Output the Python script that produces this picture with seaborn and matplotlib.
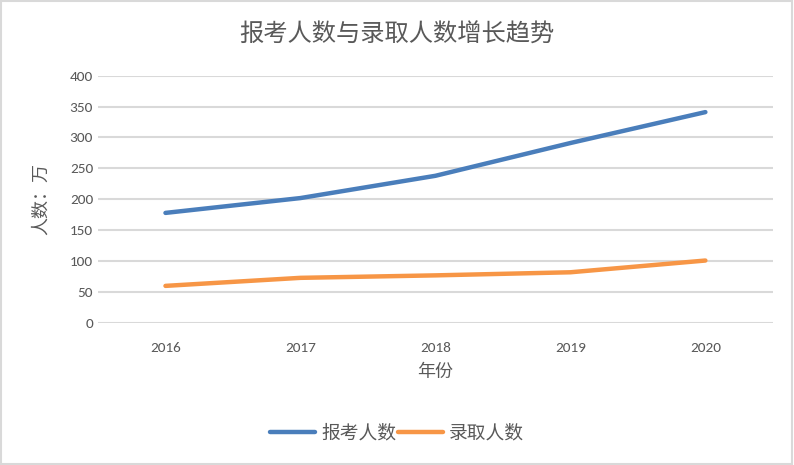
import pandas as pd
import matplotlib.pyplot as plt
import seaborn as sns
from matplotlib.patches import Rectangle

years = ['2016', '2017', '2018', '2019', '2020']
applicants = [178, 202, 238, 291, 341]
admitted = [60, 73, 77, 82, 101]
series_names = ['报考人数', '录取人数']

df = pd.DataFrame({'年份': years * 2,
                   '人数': applicants + admitted,
                   '类别': [series_names[0]] * 5 + [series_names[1]] * 5})

sns.set_theme(style='white')
plt.rcParams['font.family'] = ['Noto Sans CJK SC', 'DejaVu Sans']
grey = '#595959'

fig = plt.figure(figsize=(7.94, 4.65), dpi=100)
ax = fig.add_axes([0.1234, 0.3054, 0.85, 0.532])

sns.lineplot(data=df, x='年份', y='人数', hue='类别', sort=False,
             palette=['#4a7ebb', '#f79646'], linewidth=3.2, ax=ax,
             solid_capstyle='round', legend=False)

ax.set_xlim(-0.5, 4.5)
ax.set_ylim(0, 400)
ax.set_yticks(range(0, 401, 50))
ax.yaxis.grid(True, color='#d9d9d9', linewidth=1.5)
ax.set_axisbelow(True)
for s in ax.spines.values():
    s.set_visible(False)
ax.tick_params(axis='both', length=0, labelsize=11, labelcolor=grey)
ax.tick_params(axis='x', pad=14)
for lbl in ax.get_xticklabels() + ax.get_yticklabels():
    lbl.set_family(['Carlito', 'Liberation Sans', 'DejaVu Sans'])

ax.set_xlabel('年份', fontsize=13, color=grey, labelpad=6)
ax.set_ylabel('人数：万', fontsize=13, color=grey, labelpad=14)
fig.text(0.5, 0.925, '报考人数与录取人数增长趋势', ha='center', va='center',
         fontsize=17.5, color=grey)

handles = [plt.Line2D([], [], color=c, linewidth=3.2, solid_capstyle='round')
           for c in ['#4a7ebb', '#f79646']]
fig.legend(handles, series_names, loc='center', bbox_to_anchor=(0.5, 0.068),
           ncol=2, frameon=False, fontsize=13.5, labelcolor=grey,
           handlelength=2.4, columnspacing=0.1, handletextpad=0.3)

fig.patches.append(Rectangle((0.001, 0.002), 0.997, 0.996, transform=fig.transFigure,
                             fill=False, edgecolor='#d9d9d9', linewidth=1.5))

fig.savefig('out.png', dpi=100)
